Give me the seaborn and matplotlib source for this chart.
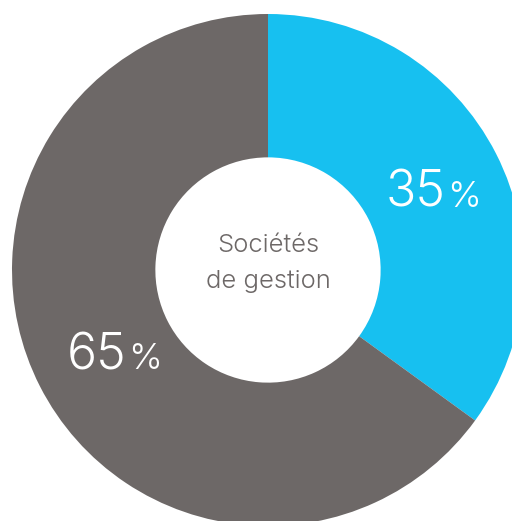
import numpy as np
import matplotlib
matplotlib.use('Agg')
import matplotlib.pyplot as plt
import seaborn as sns

# data
categories = ['Autres', 'Sociétés de gestion']
shares = [35, 65]
colors = ['#17C0F0', '#6D6867']
center_lines = ['Sociétés', 'de gestion']

sns.set_theme(style='white')
plt.rcParams['font.family'] = ['Inter', 'DejaVu Sans']

fig = plt.figure(figsize=(5.12, 5.21), dpi=100)
ax = fig.add_axes([0, 0, 1, 1])
ax.axis('off')

wedges, _ = ax.pie(shares, colors=colors, startangle=90, counterclock=False,
                   radius=1.0, wedgeprops=dict(width=0.56, linewidth=0))

# percentage labels placed along mid-angle of each wedge
for w, val in zip(wedges, shares):
    ang = np.deg2rad((w.theta1 + w.theta2) / 2)
    x, y = 0.70 * np.cos(ang), 0.70 * np.sin(ang)
    ax.annotate(f'{val}', (x, y), xytext=(13, -13), textcoords='offset points',
                ha='right', va='baseline', fontsize=36, color='white', fontweight=300)
    ax.annotate('%', (x, y), xytext=(14, -13), textcoords='offset points',
                ha='left', va='baseline', fontsize=26, color='white', fontweight=300)

ax.text(0, 0.095, center_lines[0], ha='center', va='center', fontsize=18.5,
        color='#6D6867', fontweight=300)
ax.text(0, -0.045, center_lines[1], ha='center', va='center', fontsize=18.5,
        color='#6D6867', fontweight=300)

ax.set_xlim(-268 / 256, (512 - 268) / 256)
ax.set_ylim((270 - 521) / 256, 270 / 256)
ax.set_aspect('equal')

fig.savefig('out.png', dpi=100)
